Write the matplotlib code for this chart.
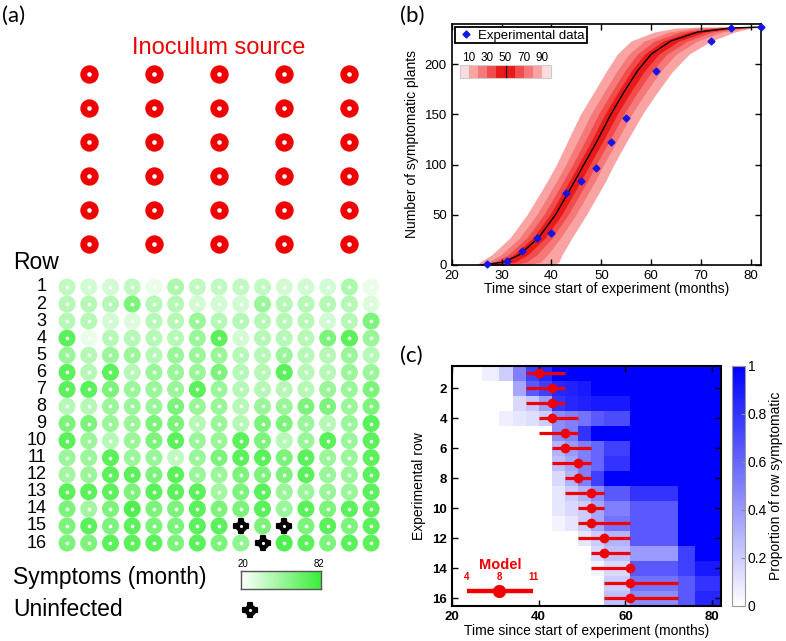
import numpy as np
import matplotlib
matplotlib.use('Agg')
import matplotlib.pyplot as plt
from matplotlib.colors import LinearSegmentedColormap

plt.rcParams['font.family'] = ['Liberation Sans', 'DejaVu Sans']

U = None  # uninfected plant

# ---------------- data ----------------
survey_months = [27, 31, 34, 37, 40, 43, 46, 49, 52, 55, 61, 72, 76, 82]
symptomatic_counts = [1, 4, 14, 27, 32, 72, 84, 97, 122, 146, 193, 223, 236, 237]

# month of first symptoms for every plant (16 rows x 15 plants)
symptom_month = [
    [40, 34, 34, 40, 27, 46, 40, 40, 40, 40, 34, 34, 34, 46, 27],
    [43, 43, 43, 61, 43, 43, 34, 34, 34, 52, 43, 43, 43, 43, 31],
    [43, 43, 34, 31, 43, 43, 52, 43, 43, 43, 43, 43, 34, 43, 61],
    [72, 27, 43, 43, 43, 43, 52, 72, 34, 43, 43, 43, 61, 72, 52],
    [52, 43, 52, 52, 43, 52, 52, 52, 43, 43, 52, 43, 43, 52, 43],
    [72, 43, 72, 43, 52, 52, 52, 61, 43, 43, 72, 43, 43, 52, 52],
    [72, 72, 61, 52, 52, 52, 72, 52, 43, 43, 43, 43, 52, 52, 61],
    [43, 43, 52, 52, 52, 61, 52, 52, 43, 52, 52, 61, 61, 52, 61],
    [61, 61, 52, 52, 61, 61, 43, 52, 43, 61, 61, 52, 43, 52, 72],
    [72, 52, 43, 52, 61, 72, 52, 52, 72, 61, 43, 52, 72, 52, 72],
    [52, 52, 72, 52, 52, 40, 52, 61, 72, 72, 61, 72, 52, 52, 72],
    [49, 52, 72, 72, 61, 72, 52, 52, 61, 61, 61, 72, 52, 52, 72],
    [72, 72, 72, 61, 72, 72, 72, 49, 61, 72, 52, 52, 52, 52, 72],
    [61, 49, 61, 76, 61, 61, 72, 61, 61, 72, 52, 72, 61, 72, 72],
    [61, 72, 61, 72, 61, 61, 72, 72, U, 61, U, 61, 72, 61, 72],
    [61, 61, 72, 72, 72, 61, 72, 61, 55, U, 76, 72, 61, 72, 72],
]
inoculum_cols = [2, 5, 8, 11, 14]
inoculum_rows = [-11.5, -9.5, -7.5, -5.5, -3.5, -1.5]
colorbar_a_range = [20, 82]

# (b) model envelope read at count levels
model_count = [0, 3, 10, 27, 50, 83, 100, 124, 150, 172, 193, 210, 223, 232, 236, 237]
model_median = [26, 30.5, 33.5, 37.4, 40.8, 44.6, 46.5, 49.2, 51.9, 54.5, 57.2, 60.0, 63.9, 69.3, 76, 82]
model_p10 = [25, 25.7, 28.0, 31.7, 35.1, 39.1, 41.0, 43.3, 45.8, 48.5, 51.0, 53.2, 55.9, 60.6, 65, 70]
model_p90 = [40.5, 41.5, 42.1, 44.1, 47.0, 50.8, 52.5, 55.2, 58.2, 61.2, 64.3, 67.6, 72.0, 76.7, 80, 83]
band_fraction = [1.0, 0.66, 0.41, 0.2]          # 10-90, 20-80, 30-70, 40-60
band_colors = ['#f9a3a3', '#f67878', '#f24d4d', '#ea1a1a']
legend_pct = [10, 30, 50, 70, 90]

# (c) proportion of each row symptomatic at each survey interval
row_proportion = [
    [0.07, 0.2, 0.5, 0.75, 0.85, 1, 1, 1, 1, 1, 1, 1, 1],
    [0, 0, 0.35, 0.65, 0.75, 0.85, 0.87, 0.9, 1, 1, 1, 1, 1],
    [0, 0, 0.15, 0.22, 0.38, 0.8, 0.85, 0.87, 0.9, 0.9, 1, 1, 1],
    [0, 0.07, 0.1, 0.13, 0.2, 0.45, 0.5, 0.55, 0.65, 0.7, 1, 1, 1],
    [0, 0, 0, 0, 0, 0.45, 0.5, 0.8, 1, 1, 1, 1, 1],
    [0, 0, 0, 0, 0, 0.3, 0.4, 0.5, 0.6, 0.75, 1, 1, 1],
    [0, 0, 0, 0, 0, 0.25, 0.35, 0.5, 0.6, 0.8, 1, 1, 1],
    [0, 0, 0, 0, 0, 0.15, 0.3, 0.5, 0.75, 1, 1, 1, 1],
    [0, 0, 0, 0, 0, 0.1, 0.2, 0.3, 0.45, 0.65, 0.8, 1, 1],
    [0, 0, 0, 0, 0, 0.1, 0.15, 0.2, 0.35, 0.5, 0.65, 1, 1],
    [0, 0, 0, 0, 0, 0.05, 0.1, 0.2, 0.35, 0.55, 0.65, 1, 1],
    [0, 0, 0, 0, 0, 0, 0, 0.1, 0.2, 0.3, 0.65, 1, 1],
    [0, 0, 0, 0, 0, 0, 0, 0, 0.15, 0.25, 0.4, 0.75, 1],
    [0, 0, 0, 0, 0, 0, 0, 0, 0.05, 0.15, 0.65, 0.75, 0.9],
    [0, 0, 0, 0, 0, 0, 0, 0, 0, 0.2, 0.55, 0.65, 0.8],
    [0, 0, 0, 0, 0, 0, 0, 0, 0, 0.25, 0.45, 0.65, 0.85],
]
model_row_median = [40, 43, 43, 43, 46, 46, 49, 49, 52, 52, 52, 55, 55, 61, 61, 61]
model_row_low = [37, 37, 37, 40, 40, 43, 43, 46, 46, 49, 49, 49, 52, 52, 55, 55]
model_row_high = [46, 46, 46, 49, 49, 52, 52, 52, 55, 55, 61, 61, 61, 61, 72, 72]
model_key_labels = ['4', '8', '11']

# ---------------- figure ----------------
W, H = 786, 641
fig = plt.figure(figsize=(W / 100, H / 100), dpi=100)

def fx(px):
    return px / W

def fy(py):
    return 1 - py / H

green = LinearSegmentedColormap.from_list('g', ['#ffffff', '#3aee3a'])
blue = LinearSegmentedColormap.from_list('b', ['#ffffff', '#0000ff'])
red = '#f00000'

# ---- panel (a) ----
axa = fig.add_axes([0, 0, fx(395), 1])
axa.set_xlim(-2.086, 16.1)
axa.set_ylim(21.74, -15.81)
axa.axis('off')

sm = np.array(symptom_month, dtype=float)
nr, nc = sm.shape
cc, rr = np.meshgrid(np.arange(1, nc + 1), np.arange(1, nr + 1))
inf = np.isfinite(sm)
axa.scatter(cc[inf], rr[inf], c=sm[inf], cmap=green, vmin=colorbar_a_range[0],
            vmax=colorbar_a_range[1], s=150, linewidths=0)
axa.scatter(cc[inf], rr[inf], color='white', s=7, linewidths=0)

def uninfected(x, y):
    axa.scatter(x, y, marker='P', color='black', s=110, linewidths=1.6, edgecolors='black')
    axa.scatter(x, y, marker='o', color='black', s=70, linewidths=0)
    axa.scatter(x, y, color='white', s=5, linewidths=0)

uninfected(cc[~inf], rr[~inf])

ic, ir = np.meshgrid(inoculum_cols, inoculum_rows)
axa.scatter(ic.ravel(), ir.ravel(), color=red, s=175, linewidths=0)
axa.scatter(ic.ravel(), ir.ravel(), color='white', s=11, linewidths=0)

axa.text(np.mean(inoculum_cols), -13.0, 'Inoculum source', color=red, fontsize=17,
         ha='center', va='center')
axa.text(-1.49, -0.45, 'Row', fontsize=16.5, ha='left', va='center')
for r in range(1, nr + 1):
    axa.text(0.05, r, str(r), fontsize=13, ha='right', va='center')
axa.text(-1.49, 18.0, 'Symptoms (month)', fontsize=16.5, ha='left', va='center')
axa.text(-1.49, 19.92, 'Uninfected', fontsize=16.5, ha='left', va='center')
uninfected([9.43], [19.92])

cba = fig.add_axes([fx(241), fy(589), fx(80), 18 / H])
cba.imshow(np.linspace(colorbar_a_range[0], colorbar_a_range[1], 256)[None, :],
           cmap=green, aspect='auto',
           extent=[colorbar_a_range[0], colorbar_a_range[1], 0, 1])
cba.set_xticks([])
cba.set_yticks([])
for sp in cba.spines.values():
    sp.set_color('#555555')
    sp.set_linewidth(1.0)
cba.text(0.03, 1.12, str(colorbar_a_range[0]), transform=cba.transAxes, fontsize=7,
         ha='center', va='bottom')
cba.text(0.97, 1.12, str(colorbar_a_range[1]), transform=cba.transAxes, fontsize=7,
         ha='center', va='bottom')

# ---- panel (b) ----
axb = fig.add_axes([fx(451.7), fy(265), fx(761) - fx(451.7), 241 / H])
med = np.array(model_median)
p10 = np.array(model_p10)
p90 = np.array(model_p90)
for frac, col in zip(band_fraction, band_colors):
    axb.fill_betweenx(model_count, med - frac * (med - p10), med + frac * (p90 - med),
                      color=col, linewidth=0)
axb.plot(model_median, model_count, color='black', lw=1.0)
axb.plot(survey_months, symptomatic_counts, 'D', color='#1414e6', ms=3.5,
         label='Experimental data', clip_on=False, zorder=5)
axb.set_xlim(20, 82)
axb.set_ylim(0, 240)
axb.set_xticks([20, 30, 40, 50, 60, 70, 80])
axb.set_yticks([0, 50, 100, 150, 200])
axb.tick_params(direction='in', top=True, right=True, labelsize=9.5, length=4, width=1)
for sp in axb.spines.values():
    sp.set_linewidth(1.2)
axb.set_xlabel('Time since start of experiment (months)', fontsize=10, labelpad=0)
axb.set_ylabel('Number of symptomatic plants', fontsize=10, labelpad=4)
leg = axb.legend(loc='upper left', fancybox=False, edgecolor='black', framealpha=1,
                 fontsize=9.5, borderaxespad=0.25, borderpad=0.15, handletextpad=0.3,
                 handlelength=1.3)
leg.get_frame().set_linewidth(1.3)

strip = axb.inset_axes([0.027, 0.776, 0.294, 0.054])
seg_edges = np.arange(0, 101, 10)
dist = np.abs((seg_edges[:-1] + 5) - 50)
seg_cols = {5: band_colors[3], 15: band_colors[2], 25: band_colors[1], 35: band_colors[0], 45: '#fcdcdc'}
for e0, d in zip(seg_edges[:-1], dist):
    strip.axvspan(e0, e0 + 10, color=seg_cols[int(d)], lw=0)
strip.axvline(50, color='black', lw=0.9)
strip.set_xlim(0, 100)
strip.set_ylim(0, 1)
strip.set_yticks([])
strip.set_xticks(legend_pct)
strip.xaxis.tick_top()
strip.tick_params(axis='x', length=0, pad=1, labelsize=8.5)
for sp in strip.spines.values():
    sp.set_color('#cccccc')
    sp.set_linewidth(0.8)

# ---- panel (c) ----
axc = fig.add_axes([fx(451.7), fy(605.7), fx(721) - fx(451.7), 240 / H])
row_edges = np.arange(0.5, len(row_proportion) + 1, 1)
mesh = axc.pcolormesh(survey_months, row_edges, np.array(row_proportion), cmap=blue,
                      vmin=0, vmax=1)
rows = np.arange(1, len(model_row_median) + 1)
axc.hlines(rows, model_row_low, model_row_high, color=red, lw=2.3)
axc.plot(model_row_median, rows, 'o', color=red, ms=6)
axc.set_xlim(20, 82)
axc.set_ylim(16.5, 0.5)
axc.set_xticks([20, 40, 60, 80])
axc.set_yticks([2, 4, 6, 8, 10, 12, 14, 16])
axc.tick_params(direction='in', top=True, right=True, labelsize=9.5, length=4, width=1)
for lab in axc.get_xticklabels() + axc.get_yticklabels():
    lab.set_fontweight('bold')
for sp in axc.spines.values():
    sp.set_linewidth(1.5)
axc.set_xlabel('Time since start of experiment (months)', fontsize=10, labelpad=1)
axc.set_ylabel('Experimental row', fontsize=10, labelpad=4)

# model key
kx = [0.057, 0.176, 0.302]
axc.plot([kx[0], kx[2]], [0.0625, 0.0625], color=red, lw=3.2, transform=axc.transAxes,
         solid_capstyle='butt')
axc.plot([kx[1]], [0.0625], 'o', color=red, ms=8.5, transform=axc.transAxes)
for x, t in zip(kx, model_key_labels):
    axc.text(x, 0.1, t, color=red, fontsize=7, fontweight='bold', ha='center',
             va='bottom', transform=axc.transAxes)
axc.text(0.18, 0.17, 'Model', color=red, fontsize=10.5, fontweight='bold', ha='center',
         va='center', transform=axc.transAxes)

cax = fig.add_axes([fx(731.7), fy(605.7), fx(13.3), 240 / H])
cb = fig.colorbar(mesh, cax=cax)
cb.set_ticks([0, 0.2, 0.4, 0.6, 0.8, 1])
cb.set_ticklabels(['0', '0.2', '0.4', '0.6', '0.8', '1'])
cb.ax.tick_params(labelsize=10, direction='in', length=3, color='#888888', pad=2)
cb.outline.set_edgecolor('#999999')
cb.outline.set_linewidth(0.8)
cb.set_label('Proportion of row symptomatic', fontsize=10, labelpad=1)

# panel letters
fig.text(fx(2), fy(16), '(a)', fontsize=16, family=['Lato', 'DejaVu Sans'], va='center', ha='left')
fig.text(fx(400), fy(16), '(b)', fontsize=16, family=['Lato', 'DejaVu Sans'], va='center', ha='left')
fig.text(fx(400), fy(356), '(c)', fontsize=16, family=['Lato', 'DejaVu Sans'], va='center', ha='left')

fig.savefig('out.png', dpi=100)
